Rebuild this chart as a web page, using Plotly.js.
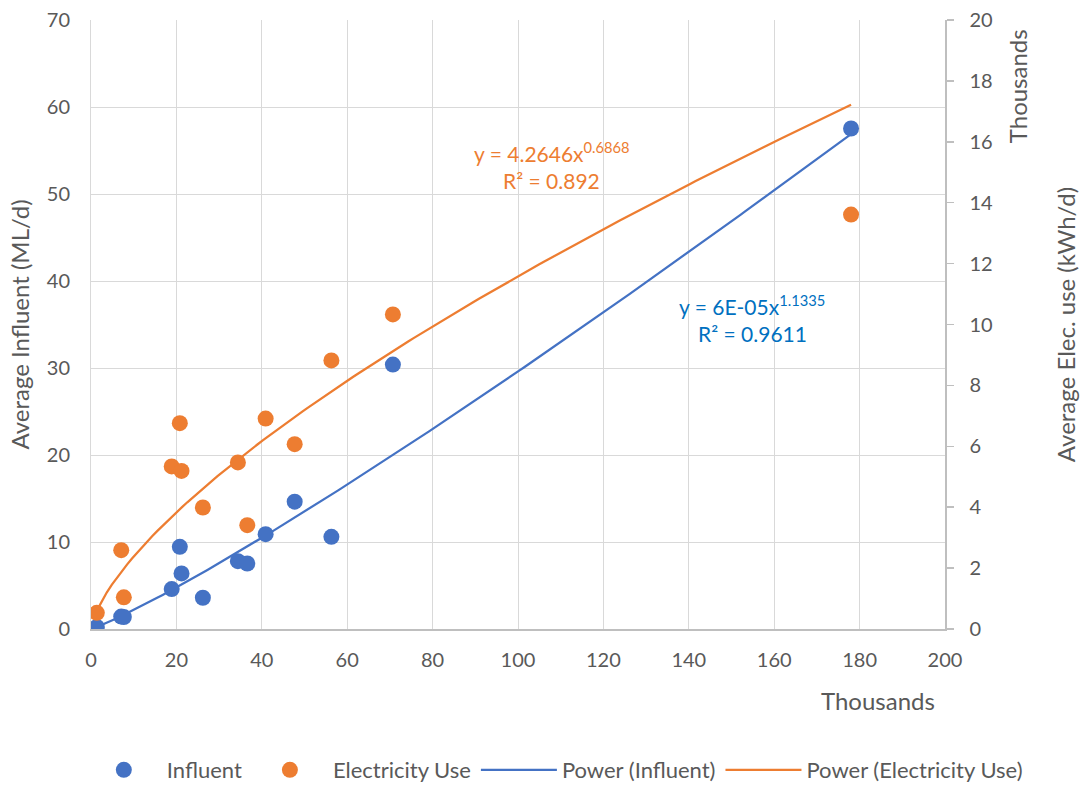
<!DOCTYPE html>
<html>
<head>
<meta charset="utf-8">
<script src="https://cdn.plot.ly/plotly-3.0.1.min.js"></script>
<style>
  html, body { margin: 0; padding: 0; background: #ffffff; }
  #chart { width: 1091px; height: 785px; }
</style>
</head>
<body>
<div id="chart"></div>
<script>
// ---- Data (x values in thousands) ----
const xThousands = [1.36, 7.08, 7.69, 18.9, 20.8, 21.2, 26.2, 34.4, 36.6, 40.9, 47.7, 56.3, 70.7, 178.0];
const influentMLd = [0.24, 1.43, 1.38, 4.59, 9.44, 6.39, 3.59, 7.8, 7.53, 10.9, 14.64, 10.59, 30.39, 57.53];
const elecThousandKWhd = [0.53, 2.59, 1.04, 5.34, 6.76, 5.19, 3.99, 5.47, 3.41, 6.91, 6.07, 8.82, 10.33, 13.61];

const seriesNames = ['Influent', 'Electricity Use', 'Power (Influent)', 'Power (Electricity Use)'];
const eqInfluent = ['y = 6E-05x<sup>1.1335</sup>', 'R² = 0.9611'];
const eqElec = ['y = 4.2646x<sup>0.6868</sup>', 'R² = 0.892'];
const axisTitles = { left: 'Average Influent (ML/d)', right: 'Average Elec. use (kWh/d)', unit: 'Thousands' };

const BLUE = '#4472C4';
const ORANGE = '#ED7D31';
const TXT = '#595959';
const FONT = 'Lato, "Open Sans", sans-serif';

// Power-law least squares fit (log-log) on raw values, like a spreadsheet trendline
function powerFit(xs, ys) {
  const n = xs.length;
  let sx = 0, sy = 0, sxx = 0, sxy = 0;
  for (let i = 0; i < n; i++) {
    const lx = Math.log(xs[i]), ly = Math.log(ys[i]);
    sx += lx; sy += ly; sxx += lx * lx; sxy += lx * ly;
  }
  const b = (n * sxy - sx * sy) / (n * sxx - sx * sx);
  const a = Math.exp((sy - b * sx) / n);
  return { a, b };
}
function trendCurve(xsK, fit, yScale) {
  const lo = Math.min(...xsK), hi = Math.max(...xsK);
  const xs = [], ys = [];
  const steps = 150;
  for (let i = 0; i <= steps; i++) {
    const xk = lo + (hi - lo) * i / steps;
    xs.push(xk);
    ys.push(fit.a * Math.pow(xk * 1000, fit.b) / yScale);
  }
  return { xs, ys };
}

const fitInf = powerFit(xThousands.map(v => v * 1000), influentMLd);
const fitEl = powerFit(xThousands.map(v => v * 1000), elecThousandKWhd.map(v => v * 1000));
const curveInf = trendCurve(xThousands, fitInf, 1);
const curveEl = trendCurve(xThousands, fitEl, 1000);

const traces = [
  { x: curveInf.xs, y: curveInf.ys, type: 'scatter', mode: 'lines', name: seriesNames[2],
    line: { color: BLUE, width: 2.25 }, yaxis: 'y', legendrank: 3, hoverinfo: 'skip' },
  { x: curveEl.xs, y: curveEl.ys, type: 'scatter', mode: 'lines', name: seriesNames[3],
    line: { color: ORANGE, width: 2.25 }, yaxis: 'y2', legendrank: 4, hoverinfo: 'skip' },
  { x: xThousands, y: influentMLd, type: 'scatter', mode: 'markers', name: seriesNames[0],
    marker: { color: BLUE, size: 16 }, yaxis: 'y', legendrank: 1 },
  { x: xThousands, y: elecThousandKWhd, type: 'scatter', mode: 'markers', name: seriesNames[1],
    marker: { color: ORANGE, size: 16 }, yaxis: 'y2', legendrank: 2 }
];

const layout = {
  width: 1091, height: 785,
  margin: { l: 91, r: 146, t: 20, b: 156, autoexpand: false },
  paper_bgcolor: '#ffffff', plot_bgcolor: '#ffffff',
  font: { family: FONT, size: 20, color: TXT },
  showlegend: true,
  legend: {
    orientation: 'h', xref: 'paper', yref: 'paper',
    x: 1.097, xanchor: 'right', y: -0.2315, yanchor: 'middle',
    font: { family: FONT, size: 22, color: TXT }, traceorder: 'normal',
    itemwidth: 76
  },
  xaxis: {
    range: [0, 200], dtick: 20, tick0: 0,
    showgrid: true, gridcolor: '#D9D9D9', gridwidth: 1,
    zeroline: false, showline: true, linecolor: '#BFBFBF', linewidth: 1.5,
    ticks: '', ticklabelstandoff: 12,
    tickfont: { family: FONT, size: 20, color: TXT }
  },
  yaxis: {
    range: [0, 70], dtick: 10, tick0: 0,
    showgrid: true, gridcolor: '#D9D9D9', gridwidth: 1,
    zeroline: false, showline: true, linecolor: '#D9D9D9', linewidth: 1,
    ticks: '', ticklabelstandoff: 16,
    tickfont: { family: FONT, size: 20, color: TXT },
    title: { text: axisTitles.left, font: { family: FONT, size: 24, color: TXT }, standoff: 10 }
  },
  yaxis2: {
    overlaying: 'y', side: 'right',
    range: [0, 20], dtick: 2, tick0: 0,
    showgrid: false, zeroline: false,
    showline: true, linecolor: '#BFBFBF', linewidth: 1.5,
    ticks: 'outside', ticklen: 7, tickcolor: '#BFBFBF', tickwidth: 1.5,
    ticklabelstandoff: 12,
    tickfont: { family: FONT, size: 20, color: TXT },
    title: { text: axisTitles.right, font: { family: FONT, size: 24, color: TXT }, standoff: 66 }
  },
  annotations: [
    { text: eqElec[0], x: 107.9, y: 54.8, xref: 'x', yref: 'y', showarrow: false,
      font: { family: FONT, size: 21, color: ORANGE } },
    { text: eqElec[1], x: 107.9, y: 51.6, xref: 'x', yref: 'y', showarrow: false,
      font: { family: FONT, size: 21, color: ORANGE } },
    { text: eqInfluent[0], x: 154.8, y: 37.2, xref: 'x', yref: 'y', showarrow: false,
      font: { family: FONT, size: 21, color: '#0070C0' } },
    { text: eqInfluent[1], x: 154.8, y: 34.0, xref: 'x', yref: 'y', showarrow: false,
      font: { family: FONT, size: 21, color: '#0070C0' } },
    { text: axisTitles.unit, x: 0.921, y: -0.1166, xref: 'paper', yref: 'paper', showarrow: false,
      xanchor: 'center', yanchor: 'middle', font: { family: FONT, size: 24, color: TXT } },
    { text: axisTitles.unit, x: 1.0853, y: 0.891, xref: 'paper', yref: 'paper', showarrow: false,
      textangle: -90, xanchor: 'center', yanchor: 'middle', font: { family: FONT, size: 24, color: TXT } }
  ]
};

Plotly.newPlot('chart', traces, layout, { displayModeBar: false, staticPlot: true });
</script>
</body>
</html>
